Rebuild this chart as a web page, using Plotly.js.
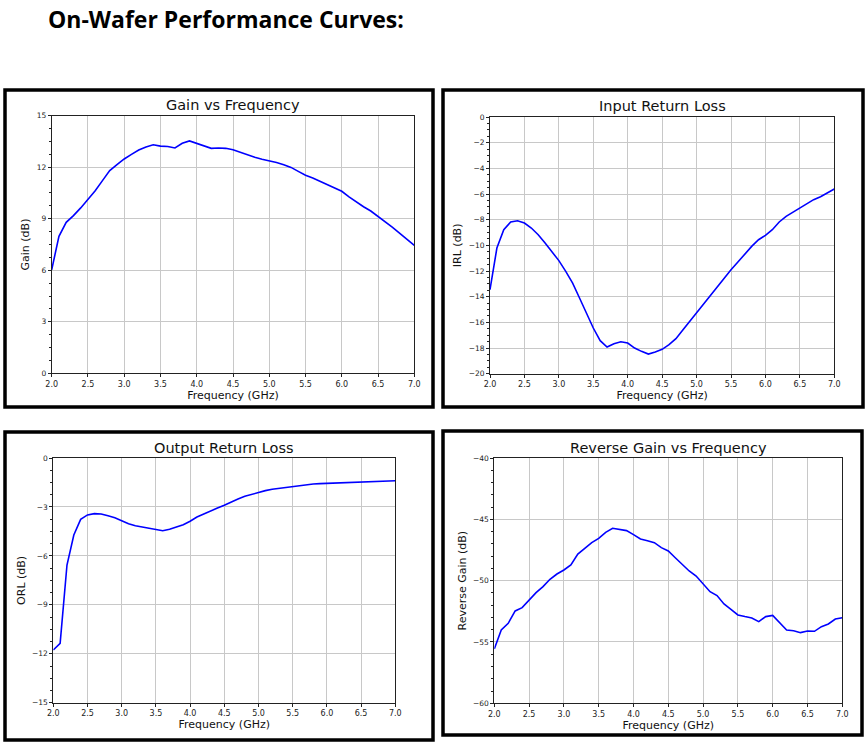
<!DOCTYPE html>
<html><head><meta charset="utf-8">
<script src="https://cdn.plot.ly/plotly-3.0.1.min.js"></script>
<style>html,body{margin:0;padding:0;background:#fff}</style>
</head><body>
<div id="chart" style="width:868px;height:750px"></div>
<script>
const freq = [2.0,2.1,2.2,2.3,2.4,2.5,2.6,2.7,2.8,2.9,3.0,3.1,3.2,3.3,3.4,3.5,3.6,3.7,3.8,3.9,4.0,4.1,4.2,4.3,4.4,4.5,4.6,4.7,4.8,4.9,5.0,5.1,5.2,5.3,5.4,5.5,5.6,5.7,5.8,5.9,6.0,6.1,6.2,6.3,6.4,6.5,6.6,6.7,6.8,6.9,7.0];
const gain = [6.03,7.98,8.79,9.18,9.63,10.11,10.63,11.22,11.8,12.15,12.48,12.75,13.0,13.18,13.31,13.23,13.21,13.12,13.39,13.53,13.39,13.25,13.1,13.12,13.1,13.02,12.87,12.71,12.58,12.46,12.38,12.28,12.15,11.99,11.76,11.53,11.37,11.18,11.0,10.83,10.6,10.27,9.97,9.7,9.45,9.14,8.85,8.5,8.15,7.82,7.45];
const irl = [-13.45,-10.21,-8.78,-8.18,-8.08,-8.26,-8.65,-9.17,-9.82,-10.47,-11.19,-12.03,-12.94,-14.1,-15.27,-16.44,-17.43,-17.92,-17.66,-17.51,-17.61,-18.0,-18.26,-18.47,-18.31,-18.1,-17.74,-17.27,-16.6,-15.92,-15.3,-14.62,-13.9,-13.17,-12.49,-11.9,-11.3,-10.68,-10.08,-9.56,-9.22,-8.78,-8.18,-7.74,-7.43,-7.09,-6.78,-6.44,-6.21,-5.92,-5.61];
const orl = [-11.77,-11.36,-6.56,-4.72,-3.76,-3.49,-3.41,-3.43,-3.54,-3.66,-3.84,-4.03,-4.15,-4.23,-4.31,-4.41,-4.46,-4.37,-4.25,-4.09,-3.88,-3.62,-3.43,-3.23,-3.07,-2.9,-2.68,-2.51,-2.35,-2.23,-2.1,-2.0,-1.92,-1.86,-1.8,-1.76,-1.7,-1.63,-1.59,-1.57,-1.55,-1.54,-1.53,-1.51,-1.49,-1.47,-1.45,-1.43,-1.41,-1.40,-1.39];
const revGain = [-55.57,-54.02,-53.48,-52.47,-52.2,-51.58,-50.98,-50.49,-49.89,-49.46,-49.13,-48.72,-47.83,-47.36,-46.9,-46.55,-46.06,-45.73,-45.84,-45.92,-46.25,-46.6,-46.74,-46.9,-47.31,-47.58,-48.13,-48.67,-49.21,-49.62,-50.22,-50.9,-51.22,-51.9,-52.34,-52.8,-52.93,-53.04,-53.34,-52.93,-52.83,-53.42,-54.02,-54.08,-54.24,-54.1,-54.13,-53.75,-53.53,-53.13,-53.02];

const panelTitles = ["Gain vs Frequency","Input Return Loss","Output Return Loss","Reverse Gain vs Frequency"];
const yTitles = ["Gain (dB)","IRL (dB)","ORL (dB)","Reverse Gain (dB)"];
const xTitle = "Frequency (GHz)";
const mainTitle = "On-Wafer Performance Curves:";

const W = 868, H = 750;
// plot areas in pixels [left, right, top, bottom]
const areas = [[51.7,414.3,115.7,373.3],[490,834.3,117,373.7],[53.3,395.3,458,702.7],[494.3,842.3,458,703.3]];
const boxes = [[5,90,433,407],[443,90,863,407],[5,432,433,740],[443,431,862,735]];
const yRanges = [[0,15],[-20,0],[-15,0],[-60,-40]];
const yDticks = [3,2,3,5];
const yMinor = [0.75,0.5,0.75,1];
const series = [gain, irl, orl, revGain];

const font = "DejaVu Sans, sans-serif";
const traces = [];
const layout = {
  width: W, height: H, margin:{l:0,r:0,t:0,b:0},
  paper_bgcolor:"#fff", plot_bgcolor:"#fff", showlegend:false,
  shapes:[], annotations:[]
};
for (let i=0;i<4;i++){
  const a = areas[i];
  const xn = i===0?"x":"x"+(i+1), yn = i===0?"y":"y"+(i+1);
  traces.push({x:freq, y:series[i], type:"scatter", mode:"lines", xaxis:xn, yaxis:yn,
    line:{color:"#0000ff", width:1.6}, hoverinfo:"skip"});
  const xk = i===0?"xaxis":"xaxis"+(i+1), yk = i===0?"yaxis":"yaxis"+(i+1);
  layout[xk] = {domain:[a[0]/W, a[1]/W], anchor:yn, range:[2,7], dtick:0.5, tick0:2, tickformat:".1f",
    showgrid:true, gridcolor:"#c8c8c8", gridwidth:1, zeroline:false,
    showline:true, linecolor:"#222", linewidth:1, mirror:true,
    ticks:"outside", ticklen:3, tickcolor:"#222", tickfont:{family:font,size:8,color:"#222"},
    title:{text:xTitle, font:{family:font,size:11,color:"#111"}, standoff:1}, fixedrange:true};
  layout[yk] = {domain:[1-a[3]/H, 1-a[2]/H], anchor:xn, range:yRanges[i], dtick:yDticks[i], tick0:yRanges[i][0],
    showgrid:true, gridcolor:"#c8c8c8", gridwidth:1, zeroline:false,
    showline:true, linecolor:"#222", linewidth:1, mirror:true,
    ticks:"outside", ticklen:3, tickcolor:"#222", tickfont:{family:font,size:7.5,color:"#222"},
    minor:{dtick:yMinor[i], tick0:yRanges[i][0], ticks:"outside", ticklen:2, tickcolor:"#222", showgrid:false},
    title:{text:yTitles[i], font:{family:font,size:11,color:"#111"}, standoff:4}, fixedrange:true};
  const b = boxes[i];
  layout.shapes.push({type:"rect", xref:"paper", yref:"paper", x0:b[0]/W, x1:b[2]/W, y0:1-b[1]/H, y1:1-b[3]/H,
    line:{color:"#000", width:3.5}, fillcolor:"rgba(0,0,0,0)", layer:"below"});
  layout.annotations.push({text:panelTitles[i], xref:"paper", yref:"paper", x:(a[0]+a[1])/2/W, y:1-(a[2]-0.5)/H,
    xanchor:"center", yanchor:"bottom", showarrow:false, font:{family:font,size:14.5,color:"#111"}});
}
layout.annotations.push({text:"<b>"+mainTitle+"</b>", xref:"paper", yref:"paper", x:46/W, y:1-19/H,
  xanchor:"left", yanchor:"middle", showarrow:false, font:{family:"Open Sans, sans-serif", size:23, color:"#000"}});

Plotly.newPlot("chart", traces, layout, {displayModeBar:false, staticPlot:true});
</script>
</body></html>
